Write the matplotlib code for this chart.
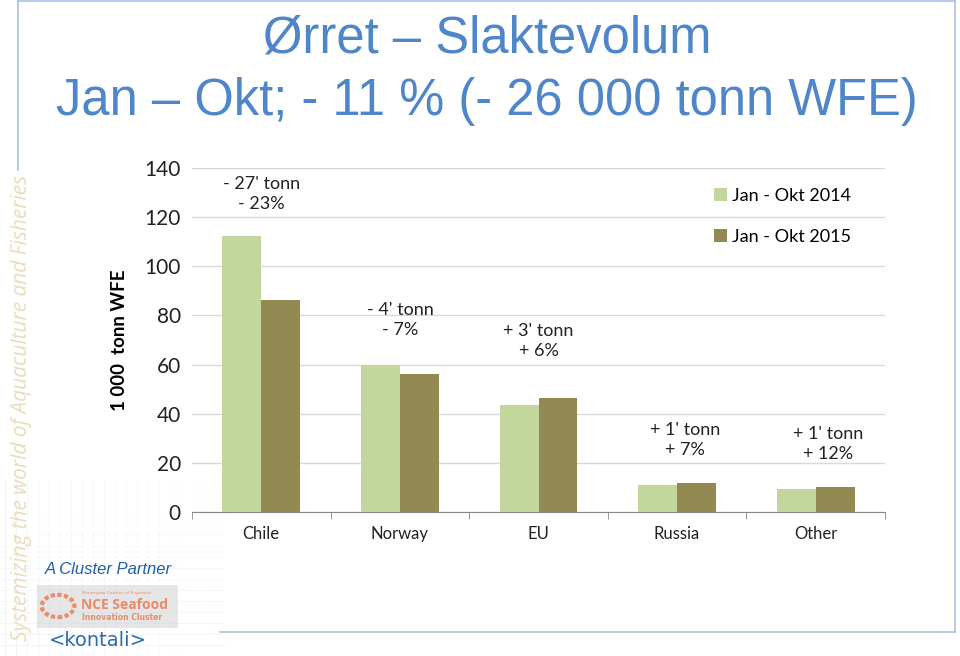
import matplotlib.pyplot as plt
import numpy as np
from matplotlib.lines import Line2D
from matplotlib.patches import Rectangle, Circle

categories = ["Chile", "Norway", "EU", "Russia", "Other"]
vol_2014 = [112.5, 59.8, 43.6, 11.0, 9.3]
vol_2015 = [86.3, 56.2, 46.5, 11.8, 10.2]
series_labels = ["Jan - Okt 2014", "Jan - Okt 2015"]
change_notes = ["- 27' tonn\n- 23%", "- 4' tonn\n- 7%", "+ 3' tonn\n+ 6%",
                "+ 1' tonn\n+ 7%", "+ 1' tonn\n+ 12%"]
note_x = [0.0, 1.0, 2.0, 3.06, 4.09]
note_y = [129.5, 78.0, 69.5, 29.3, 27.6]
y_ticks = [0, 20, 40, 60, 80, 100, 120, 140]

title_lines = ["Ørret – Slaktevolum", "Jan – Okt; - 11 % (- 26 000 tonn WFE)"]
watermark = "Systemizing the world of Aquaculture and Fisheries"

c14 = "#c3d69b"
c15 = "#938953"
blue = "#4f86c9"
chart_font = "Lato"

fig = plt.figure(figsize=(9.6, 6.56), dpi=100)
W, H = 960, 656


def fx(px):
    return px / W


def fy(py):
    return 1 - py / H


# slide frame
frame = "#a9c1e4"
fig.add_artist(Line2D([fx(18), fx(955)], [fy(1), fy(1)], color=frame, lw=1.2))
fig.add_artist(Line2D([fx(18), fx(18)], [fy(1), fy(170)], color=frame, lw=1.2))
fig.add_artist(Line2D([fx(955), fx(955)], [fy(1), fy(632)], color=frame, lw=1.2))
fig.add_artist(Line2D([fx(220), fx(955)], [fy(632), fy(632)], color=frame, lw=1.2))

# faint background grid bottom-left
for gx in np.arange(5, 225, 11):
    a = 0.25 * (1 - gx / 230)
    fig.add_artist(Line2D([fx(gx), fx(gx)], [fy(480), fy(656)], color="#b9cde6", lw=0.6, alpha=a))
for gy in np.arange(480, 656, 11):
    a = 0.25 * ((gy - 470) / 190)
    fig.add_artist(Line2D([fx(0), fx(225)], [fy(gy), fy(gy)], color="#b9cde6", lw=0.6, alpha=a))

# title
fig.text(fx(487), fy(39), title_lines[0], ha="center", va="center", color=blue,
         fontsize=36.5, family="Liberation Sans")
fig.text(fx(487), fy(101), title_lines[1], ha="center", va="center", color=blue,
         fontsize=36.5, family="Liberation Sans")

# watermark
fig.text(fx(22), fy(408), watermark, rotation=90, ha="center", va="center",
         color="#eadcbc", fontsize=15, style="italic", family="Open Sans")

# logos
fig.text(fx(45), fy(570), "A Cluster Partner", ha="left", va="center", color="#1f5fa8",
         fontsize=12, style="italic", family="Liberation Sans")
fig.add_artist(Rectangle((fx(37), fy(628)), fx(141), fy(585) - fy(628), transform=fig.transFigure,
                         facecolor="#e6e6e6", edgecolor="none"))
fig.add_artist(Circle((fx(58), fy(606)), 0.017, transform=fig.transFigure, facecolor="none",
                      edgecolor="#ec8a6a", lw=3, ls=(0, (1, 0.6))))
fig.text(fx(82), fy(593), "Norwegian Centres of Expertise", fontsize=3.2, color="#ec8a6a",
         va="center", ha="left")
fig.text(fx(81), fy(605), "NCE Seafood", fontsize=10, color="#ec8a6a", weight="bold",
         va="center", ha="left", family="Open Sans")
fig.text(fx(82), fy(618), "Innovation Cluster", fontsize=5.5, color="#ec8a6a", weight="bold",
         va="center", ha="left")
fig.text(fx(98), fy(641), "<kontali>", fontsize=14, color="#2a6ab4", va="center", ha="center",
         family="DejaVu Sans")

# chart
ax = fig.add_axes([fx(192), fy(512), fx(885) - fx(192), fy(168) - fy(512)])
x = np.arange(len(categories))
bw = 0.28
ax.bar(x - bw / 2, vol_2014, bw, color=c14, label=series_labels[0], zorder=3)
ax.bar(x + bw / 2, vol_2015, bw, color=c15, label=series_labels[1], zorder=3)

ax.set_xlim(-0.5, len(categories) - 0.5)
ax.set_ylim(0, 140)
ax.set_yticks(y_ticks)
ax.set_yticklabels([str(t) for t in y_ticks], fontsize=15, family=chart_font, color="#222222")
ax.set_xticks(x)
ax.set_xticklabels(categories, fontsize=12, family=chart_font, color="#222222")
ax.tick_params(axis="x", length=0, pad=10)
ax.tick_params(axis="y", length=0, pad=8)
ax.set_xticks(np.arange(-0.5, len(categories)), minor=True)
ax.tick_params(axis="x", which="minor", length=5, color="#868686")

ax.grid(axis="y", color="#d9d9d9", lw=1, zorder=0)
for s in ["top", "right", "left"]:
    ax.spines[s].set_visible(False)
ax.spines["bottom"].set_color("#868686")

ax.set_ylabel("1 000  tonn WFE", fontsize=13.5, weight="bold", family=chart_font, labelpad=12)

for tx, ty, note in zip(note_x, note_y, change_notes):
    ax.text(tx, ty, note, ha="center", va="center", fontsize=13, family=chart_font,
            linespacing=1.3, color="#222222")

leg = ax.legend(loc="upper right", bbox_to_anchor=(0.975, 0.99), frameon=False,
                prop={"family": chart_font, "size": 13}, labelspacing=1.4,
                handlelength=0.7, handleheight=0.7, handletextpad=0.3)

fig.savefig("out.png", dpi=100)
